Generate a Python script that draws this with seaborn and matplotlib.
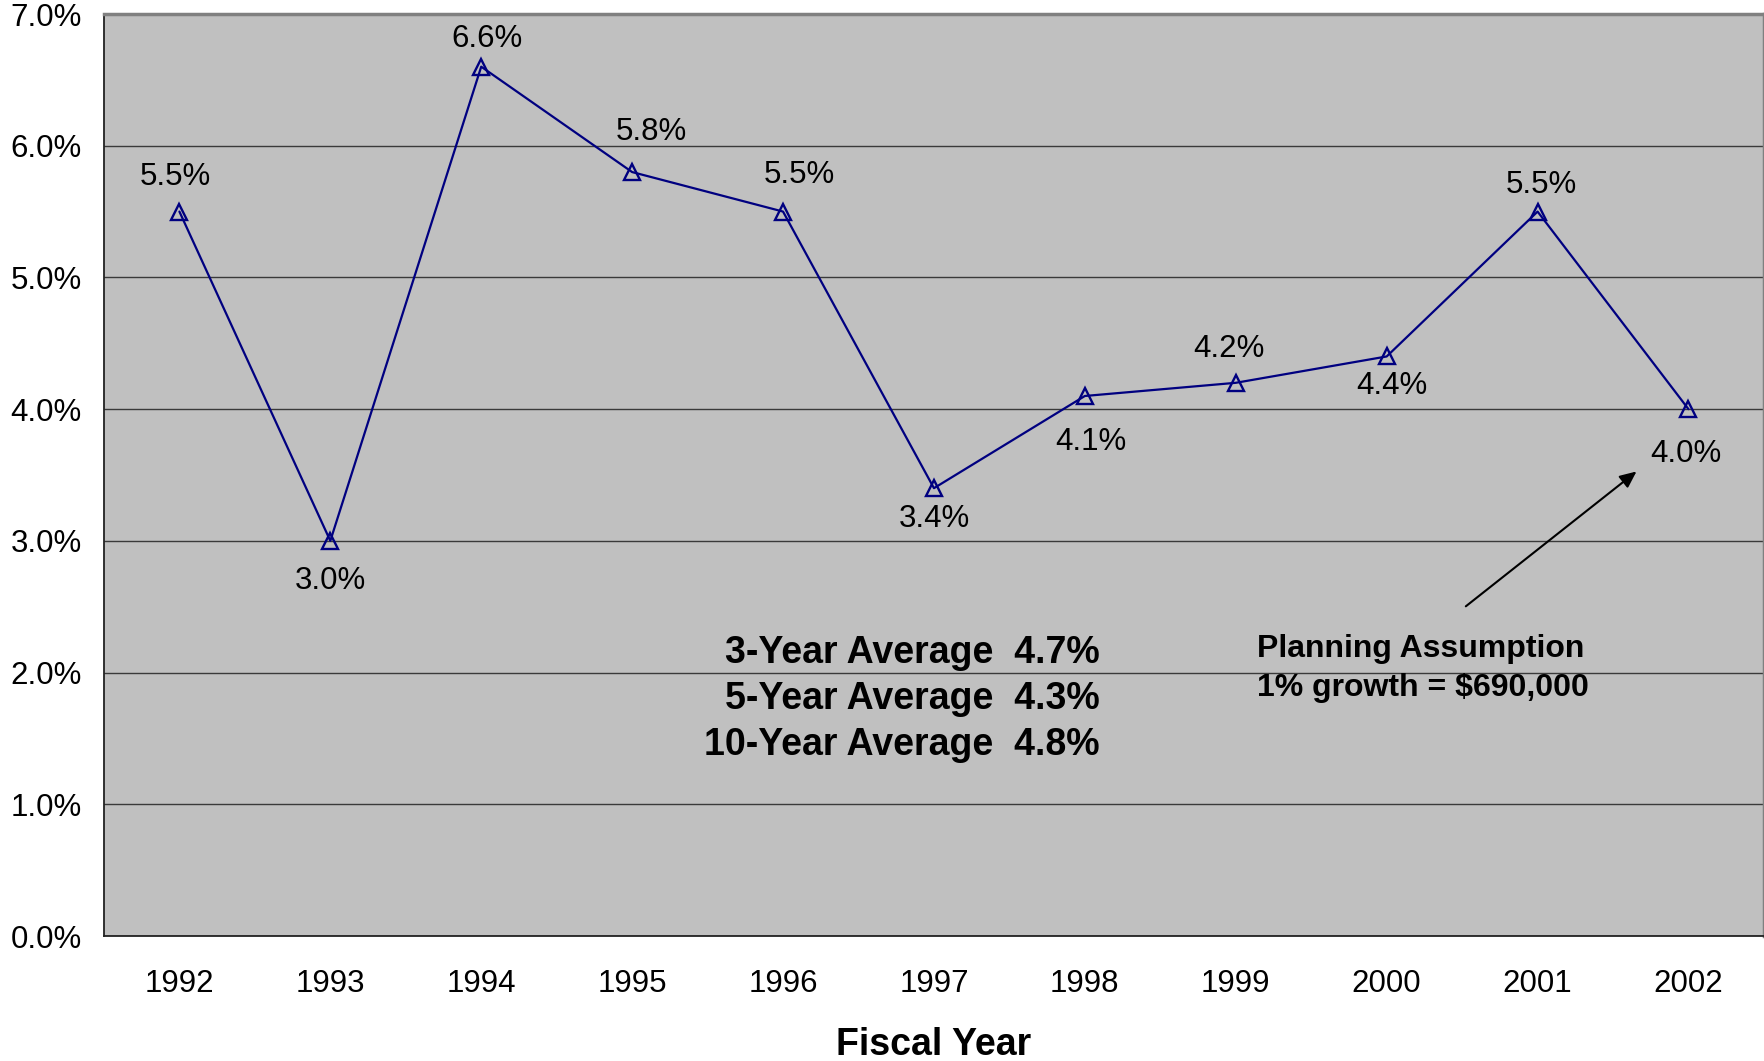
import pandas as pd
import seaborn as sns
import matplotlib.pyplot as plt
from matplotlib.ticker import FixedLocator, FuncFormatter

years = ['1992', '1993', '1994', '1995', '1996', '1997', '1998', '1999', '2000', '2001', '2002']
growth = [5.5, 3.0, 6.6, 5.8, 5.5, 3.4, 4.1, 4.2, 4.4, 5.5, 4.0]
avg_names = ['3-Year Average', '5-Year Average', '10-Year Average']
avg_values = [4.7, 4.3, 4.8]
note_lines = ['Planning Assumption', '1% growth = $690,000']

# label placement (offset in points) for each point
label_offsets = [(-3, 25), (0, -29), (4, 20), (14, 29), (12, 26), (0, -22),
                 (4, -33), (-5, 24), (4, -21), (3, 19), (-2, -32)]

sns.set_style('white')
plt.rcParams['font.family'] = ['Liberation Sans', 'DejaVu Sans']
plt.rcParams['text.color'] = 'black'
plt.rcParams['xtick.color'] = 'black'
plt.rcParams['ytick.color'] = 'black'
plt.rcParams['axes.labelcolor'] = 'black'

df = pd.DataFrame({'pos': range(len(years)), 'growth': growth})

fig = plt.figure(figsize=(17.65, 10.61), dpi=100)
ax = fig.add_axes([0.0589, 0.1178, 0.9405, 0.869])
ax.set_facecolor('#C0C0C0')

sns.lineplot(data=df, x='pos', y='growth', ax=ax, color='#000080', linewidth=1.6,
             marker='^', markersize=11, markerfacecolor='none',
             markeredgecolor='#000080', markeredgewidth=1.7, zorder=3)

for i, v in enumerate(growth):
    ax.annotate(f'{v:.1f}%', (i, v), xytext=label_offsets[i], textcoords='offset points',
                ha='center', va='center', fontsize=22.5)

ax.set_ylim(0, 7)
ax.set_xlim(-0.5, len(years) - 0.5)
ax.yaxis.set_major_locator(FixedLocator([i for i in range(8)]))
ax.yaxis.set_major_formatter(FuncFormatter(lambda v, p: f'{v:.1f}%'))
ax.grid(axis='y', color='#3a3a3a', linewidth=1)
ax.set_axisbelow(True)

ax.set_xticks([i - 0.5 for i in range(len(years) + 1)])
ax.set_xticklabels([])
ax.set_xticks(range(len(years)), minor=True)
ax.set_xticklabels(years, minor=True, fontsize=22.5)
ax.tick_params(axis='x', which='major', direction='out', length=9, width=1.2, color='#555555')
ax.tick_params(axis='x', which='minor', length=0, pad=24)
ax.tick_params(axis='y', direction='out', length=9, width=1.2, color='#333333', labelsize=22.5, pad=7)

ax.set_xlabel('Fiscal Year', fontsize=27, fontweight='bold', labelpad=20)
ax.set_ylabel('')

for side in ['left', 'bottom']:
    ax.spines[side].set_color('#222222')
    ax.spines[side].set_linewidth(1.3)
for side in ['top', 'right']:
    ax.spines[side].set_color('#808080')
    ax.spines[side].set_linewidth(2.5)

avg_text = '\n'.join(f'{n}  {v:.1f}%' for n, v in zip(avg_names, avg_values))
ax.text(6.10, 1.80, avg_text, ha='right', va='center', multialignment='right',
        fontsize=27, fontweight='bold', linespacing=1.37)

ax.text(7.14, 2.03, '\n'.join(note_lines), ha='left', va='center',
        fontsize=23, fontweight='bold', linespacing=1.36)
ax.annotate('', xy=(9.67, 3.54), xytext=(8.51, 2.49),
            arrowprops=dict(arrowstyle='-|>,head_length=1.0,head_width=0.45',
                            color='black', linewidth=1.5))

plt.savefig('out.png', dpi=100)
